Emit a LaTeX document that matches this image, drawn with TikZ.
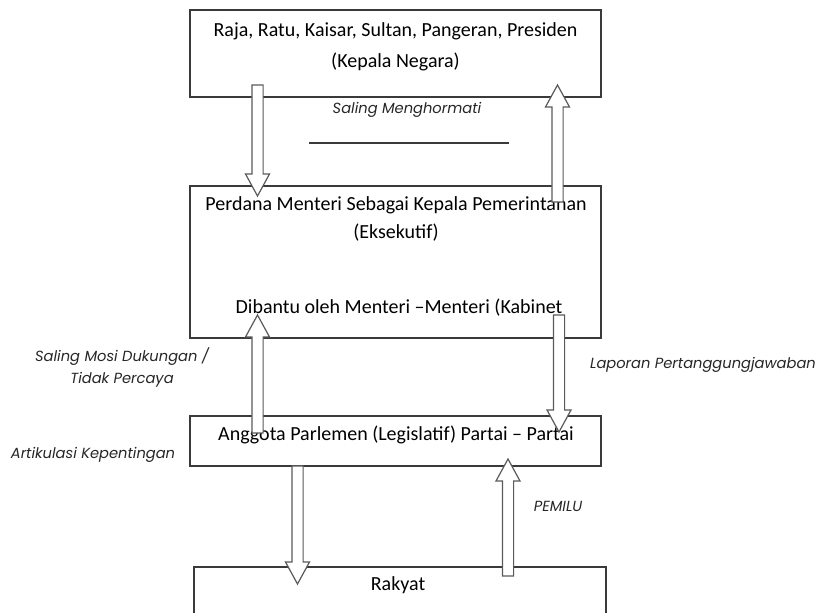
\documentclass[tikz,border=0pt]{standalone}
\usepackage{fontspec}
\setmainfont{Carlito}
\newfontfamily\notefont{Poppins}
\usetikzlibrary{calc}

\definecolor{boxline}{HTML}{3A3A3A}
\definecolor{arrowline}{HTML}{5A5A5A}

% hollow block arrow from tail #1 to tip #2 (vertical)
\newcommand\fatarrow[2]{%
  \draw[fatarrow] let \p1=(#1), \p2=(#2), \n1={(\y2>\y1)?1:-1} in
    ({\x1-4.2pt},\y1) -- ({\x1-4.2pt},{\y2-\n1*16.5pt})
    -- ({\x1-9pt},{\y2-\n1*16.5pt}) -- (\x2,\y2)
    -- ({\x1+9pt},{\y2-\n1*16.5pt}) -- ({\x1+4.2pt},{\y2-\n1*16.5pt})
    -- ({\x1+4.2pt},\y1) -- cycle;}

\begin{document}
\begin{tikzpicture}[x=0.75pt,y=-0.75pt,
  box/.style={draw=boxline, line width=0.9pt, inner sep=0pt},
  maintext/.style={font=\fontsize{15}{18}\selectfont, inner sep=0pt, align=center},
  note/.style={font=\notefont\itshape\fontsize{11}{16.5}\selectfont, text=black!85, inner sep=0pt, align=center},
  fatarrow/.style={draw=arrowline, line width=0.9pt, fill=white, line join=miter}]

\useasboundingbox (0,0) rectangle (819,613);
\clip (0,0) rectangle (819,613);

% boxes
\node[box, minimum width=308.25pt, minimum height=65.25pt] (kepala) at (395.5,53.5) {};
\node[box, minimum width=308.25pt, minimum height=114pt] (perdana) at (395.5,262) {};
\node[box, minimum width=308.25pt, minimum height=37.5pt] (parlemen) at (395.5,441) {};
\node[box, minimum width=309pt, minimum height=60pt] (rakyat) at (400,607) {};

% box texts
\node[maintext] (t1a) at (395.5,31) {Raja, Ratu, Kaisar, Sultan, Pangeran, Presiden};
\node[maintext] (t1b) at (395.5,62) {(Kepala Negara)};
\node[maintext] (t2a) at (396,205) {Perdana Menteri Sebagai Kepala Pemerintahan};
\node[maintext] (t2b) at (396,233) {(Eksekutif)};
\node[maintext] (t2c) at (399,308) {Dibantu oleh Menteri --Menteri (Kabinet};
\node[maintext] (t3) at (396,435) {Anggota Parlemen (Legislatif) Partai -- Partai};
\node[maintext] (t4) at (398,585) {Rakyat};

% side notes
\node[note] (n1) at (407,110) {Saling Menghormati};
\draw[boxline, line width=0.8pt] (309,143) -- (509,143);
\node[note] (n2) at (122,367) {Saling Mosi Dukungan /\\Tidak Percaya};
\node[note] (n3) at (703,365) {Laporan Pertanggungjawaban};
\node[note] (n4) at (93,455) {Artikulasi Kepentingan};
\node[note] (n5) at (558,506) {PEMILU};

% arrow end points
\coordinate (aT) at (257.5,85);  \coordinate (aH) at (257.5,196);
\coordinate (bT) at (557.5,202); \coordinate (bH) at (557.5,85);
\coordinate (cT) at (257.5,433); \coordinate (cH) at (257.5,315);
\coordinate (dT) at (559,315);   \coordinate (dH) at (559,432);
\coordinate (eT) at (297.5,466); \coordinate (eH) at (297.5,584);
\coordinate (fT) at (508,576);   \coordinate (fH) at (508,459);

\fatarrow{aT}{aH}
\fatarrow{bT}{bH}
\fatarrow{cT}{cH}
\fatarrow{dT}{dH}
\fatarrow{eT}{eH}
\fatarrow{fT}{fH}
\end{tikzpicture}
\end{document}
